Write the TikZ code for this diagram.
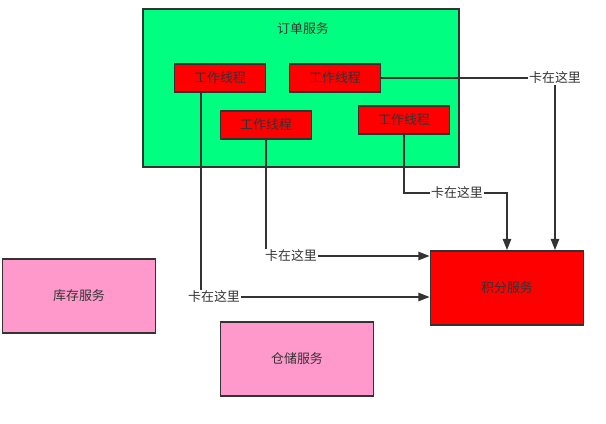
\documentclass[tikz,border=0pt]{standalone}
\usepackage{fontspec}
\setmainfont{Noto Sans CJK SC}
\usetikzlibrary{arrows.meta,positioning,calc}
\definecolor{ordergreen}{RGB}{0,255,128}
\definecolor{svcpink}{RGB}{255,153,204}
\definecolor{edgegray}{RGB}{51,51,51}

\begin{document}
\begin{tikzpicture}[x=0.025cm,y=-0.025cm,
    font=\fontsize{9.2}{11}\selectfont,
    box/.style={draw=edgegray,line width=1.3pt,inner sep=0pt,text=edgegray},
    worker/.style={box,fill=red,minimum width=2.275cm,minimum height=0.7cm},
    svc/.style={box,fill=svcpink,minimum width=3.825cm,minimum height=1.85cm},
    link/.style={draw=edgegray,line width=1.1pt},
    stuck/.style={inner sep=0.5pt,text=edgegray}]
    \useasboundingbox (0,0) rectangle (606,423);
    % order service and its threads
    \node[box,fill=ordergreen,minimum width=7.9cm,minimum height=3.95cm] (order) at (301,88) {};
    \node[text=edgegray] (ordertitle) at (303,29) {订单服务};
    \node[worker] (w1) at (220,78) {工作线程};
    \node[worker] (w2) at (335,78) {工作线程};
    \node[worker] (w3) at (266,125) {工作线程};
    \node[worker] (w4) at (404,120) {工作线程};
    % other services
    \node[box,fill=red,minimum width=3.825cm,minimum height=1.85cm] (points) at (507,288) {积分服务};
    \node[svc] (stock) at (79,296) {库存服务};
    \node[svc] (store) at (297,359) {仓储服务};
    % blocked calls
    \node[stuck] (s1) at (555,78) {卡在这里};
    \node[stuck] (s2) at (457,193) {卡在这里};
    \node[stuck] (s3) at (291,256) {卡在这里};
    \node[stuck] (s4) at (214,297) {卡在这里};
    \draw[link] (w2.east) -- (s1.west);
    \draw[link,-{Triangle[length=8pt,width=6pt]}] (s1.south) -- (s1.south |- points.north);
    \draw[link] (w4.south) |- (s2.west);
    \draw[link,-{Triangle[length=8pt,width=6pt]}] (s2.east) -| (points.north);
    \draw[link] (w3.south) -- (w3.south |- s3.north);
    \draw[link,-{Triangle[length=8pt,width=6pt]}] (s3.east) -- (s3.east -| points.west);
    \coordinate (w1drop) at ($(w1.south)+(-19,0)$);
    \draw[link] (w1drop) -- (w1drop |- s4.north);
    \draw[link,-{Triangle[length=8pt,width=6pt]}] (s4.east) -- (s4.east -| points.west);
\end{tikzpicture}
\end{document}
